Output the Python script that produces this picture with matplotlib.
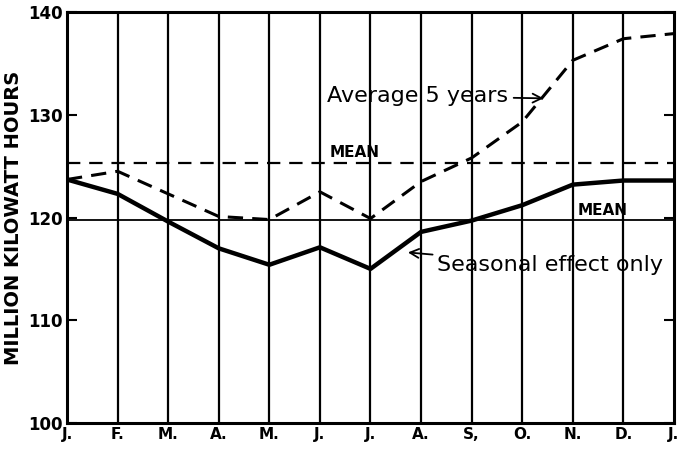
import matplotlib
matplotlib.use('Agg')
import matplotlib.pyplot as plt

months = ['J.', 'F.', 'M.', 'A.', 'M.', 'J.', 'J.', 'A.', 'S,', 'O.', 'N.', 'D.', 'J.']
seasonal = [123.7, 122.3, 119.6, 117.0, 115.4, 117.1, 115.0, 118.6, 119.7, 121.2, 123.2, 123.6, 123.6]
average_5yr = [123.7, 124.5, 122.3, 120.1, 119.8, 122.5, 119.9, 123.5, 125.8, 129.3, 135.3, 137.4, 137.9]
seasonal_mean = 119.8
average_mean = 125.3
y_ticks = [100, 110, 120, 130, 140]

x = list(range(len(months)))

fig = plt.figure(figsize=(6.81, 4.5), dpi=100)
ax = fig.add_axes([0.0984, 0.06, 0.8913, 0.9133])

for xi in x[1:-1]:
    ax.axvline(xi, color='black', lw=1.6, zorder=1)

ax.axhline(seasonal_mean, color='black', lw=1.3, zorder=2)
ax.axhline(average_mean, color='black', lw=1.6, dashes=(6, 4), zorder=2)

ax.plot(x, seasonal, color='black', lw=3.2, solid_joinstyle='round', zorder=3)
ax.plot(x, average_5yr, color='black', lw=2.2, dashes=(5, 3), zorder=3)

ax.set_xlim(0, len(months) - 1)
ax.set_ylim(100, 140)
ax.set_xticks(x)
ax.set_xticklabels(months, fontsize=11, fontweight='bold')
ax.set_yticks(y_ticks)
ax.set_yticklabels([str(v) for v in y_ticks], fontsize=12, fontweight='bold')
ax.tick_params(axis='x', length=0, pad=3)
ax.tick_params(axis='y', direction='in', length=7, width=1.5, right=True, pad=3)

for spine in ax.spines.values():
    spine.set_linewidth(2.2)

ax.set_ylabel('MILLION KILOWATT HOURS', fontsize=14, fontweight='bold', labelpad=4)

ax.text(5.2, average_mean + 0.6, 'MEAN', fontsize=11, fontweight='bold')
ax.text(10.1, seasonal_mean + 0.45, 'MEAN', fontsize=11, fontweight='bold')

ax.annotate('Average 5 years', xy=(9.42, 131.6), xytext=(5.14, 131.8),
            fontsize=16, va='center',
            arrowprops=dict(arrowstyle='->', color='black', lw=1.3,
                            shrinkA=2, shrinkB=0))
ax.annotate('Seasonal effect only', xy=(6.74, 116.6), xytext=(7.31, 115.4),
            fontsize=16, va='center',
            arrowprops=dict(arrowstyle='->', color='black', lw=1.3,
                            shrinkA=1, shrinkB=0))

fig.savefig('out.png', dpi=100)
